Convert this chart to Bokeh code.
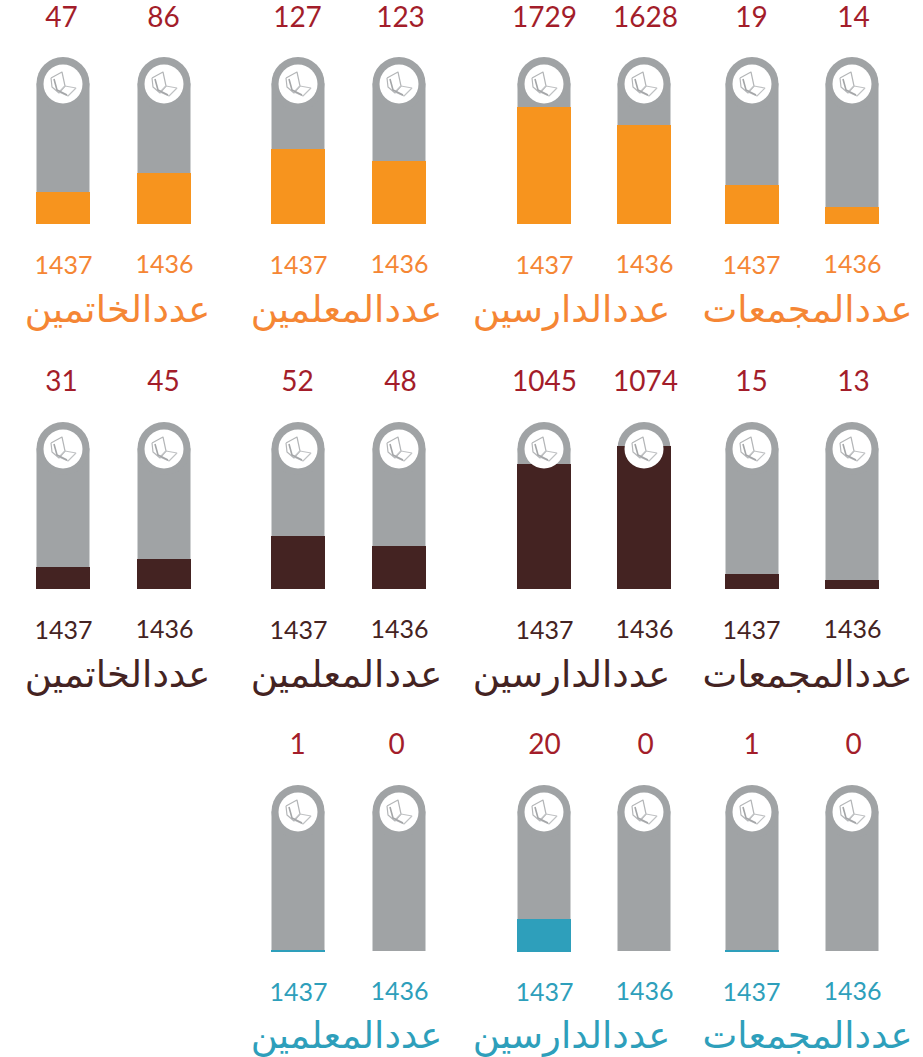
from bokeh.plotting import figure
from bokeh.models import Range1d
from bokeh.core.properties import value
from bokeh.embed import file_html
from bokeh.resources import INLINE

W, H = 923, 1057

years = ["1437", "1436"]
titles = ["عددالخاتمين", "عددالمعلمين", "عددالدارسين", "عددالمجمعات"]

row1_values = [47, 86, 127, 123, 1729, 1628, 19, 14]
row2_values = [31, 45, 52, 48, 1045, 1074, 15, 13]
row3_values = [1, 0, 20, 0, 1, 0]

# fill level of each capsule (capsule height = 166)
row1_levels = [31, 50, 74, 62, 116, 98, 38, 16]
row2_levels = [21, 29, 52, 42, 124, 142, 14, 8]
row3_levels = [1, 0, 32, 0, 1, 0]

row_colors = ["#F7941E", "#442322", "#2E9FBB"]
label_colors = ["#F58634", "#442322", "#2E9FBB"]
GRAY = "#A0A3A5"
RED = "#A31D2A"
NUM_FONT = "Lato"

col_x = [62.5, 163.5, 297.5, 398.5, 543.5, 643.5, 751.5, 851.5]
label_x = [61, 163, 297, 400, 544, 645, 751, 853]
label_x3 = [61, 163, 297, 396, 544, 645, 751, 853]
year_x = [63, 164, 298, 399, 544, 644, 751, 852]
title_x = [117, 346, 571, 807]

rows = [
    dict(values=row1_values, levels=row1_levels, lx=label_x, cols=list(range(8)), top=56.5, vy=16, yy=263, ty=309, titles=[0, 1, 2, 3]),
    dict(values=row2_values, levels=row2_levels, lx=label_x, cols=list(range(8)), top=421.5, vy=380, yy=628, ty=674, titles=[0, 1, 2, 3]),
    dict(values=row3_values, levels=row3_levels, lx=label_x3, cols=list(range(2, 8)), top=784.5, vy=743, yy=990, ty=1035, titles=[1, 2, 3]),
]

p = figure(width=W, height=H, x_range=Range1d(0, W), y_range=Range1d(H, 0),
           output_backend="svg", toolbar_location=None, x_axis_location=None, y_axis_location=None,
           min_border=0, outline_line_color=None, background_fill_color="white")
p.grid.visible = False
p.axis.visible = False
p.margin = (0, 0, 0, 0)

R = 26.5
CAP_H = 166

left_page = [(-12, -6), (-1, -12), (2, 2), (-4, 9), (-11, 3), (-12, -6)]
right_page = [(2, 2), (13, 4), (5, 12), (-4, 8), (2, 2)]
inner = [(-9, -5), (-6, 6), (4, 11)]

for ri, row in enumerate(rows):
    xs = [col_x[c] for c in row["cols"]]
    top = row["top"]
    bottom = top + CAP_H
    p.quad(left=[x - R for x in xs], right=[x + R for x in xs], top=[top + R] * len(xs),
           bottom=[bottom] * len(xs), fill_color=GRAY, line_color=None)
    p.circle(x=xs, y=[top + R] * len(xs), radius=R, fill_color=GRAY, line_color=None)
    lv = row["levels"]
    p.quad(left=[x - 27 for x in xs], right=[x + 27 for x in xs],
           top=[bottom - l for l in lv], bottom=[bottom + (1 if l else 0) for l in lv],
           fill_color=row_colors[ri], line_color=None)
    cy = top + 27
    p.circle(x=xs, y=[cy] * len(xs), radius=19.5, fill_color="white", line_color=None)
    p.multi_line(xs=[[x + a for a, _ in left_page] for x in xs], ys=[[cy + b for _, b in left_page] for x in xs],
                 line_color="#B4B6B8", line_width=1.2)
    p.multi_line(xs=[[x + a for a, _ in right_page] for x in xs], ys=[[cy + b for _, b in right_page] for x in xs],
                 line_color="#C0C2C4", line_width=1.1)
    p.multi_line(xs=[[x + a for a, _ in inner] for x in xs], ys=[[cy + b for _, b in inner] for x in xs],
                 line_color="#A4A6A8", line_width=1.6)
    p.text(x=[row["lx"][c] for c in row["cols"]], y=[row["vy"]] * len(xs), text=[str(v) for v in row["values"]],
           text_font=value(NUM_FONT), text_font_size="28px", text_color=RED, text_align="center", text_baseline="alphabetic")
    yr = [years[c % 2] for c in row["cols"]]
    p.text(x=[year_x[c] for c in row["cols"]], y=[row["yy"] + (1 if c % 2 == 0 else 0) for c in row["cols"]], text=yr,
           text_font=value(NUM_FONT), text_font_size="25px", text_color=label_colors[ri], text_align="center", text_baseline="alphabetic")
    p.text(x=[title_x[t] for t in row["titles"]], y=[row["ty"]] * len(row["titles"]), text=[titles[t] for t in row["titles"]],
           text_font=value("DejaVu Sans"), text_font_size="37px", text_color=label_colors[ri], text_align="center", text_baseline="middle")

open("out.html", "w").write(file_html(p, INLINE))
